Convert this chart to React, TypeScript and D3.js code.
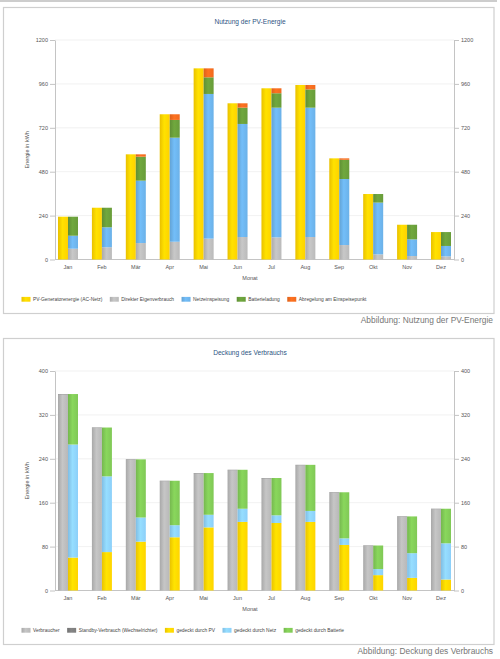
import { useRef, useEffect } from "react";
import * as d3 from "d3";

const MONTHS = ["Jan", "Feb", "Mär", "Apr", "Mai", "Jun", "Jul", "Aug", "Sep", "Okt", "Nov", "Dez"];

// Nutzung der PV-Energie (kWh)
const PV_GENERATOR = [234, 283, 575, 794, 1045, 854, 936, 954, 553, 358, 190, 150];
const EIGENVERBRAUCH = [59, 67, 90, 97, 114, 123, 121, 123, 79, 28, 19, 17];
const NETZEINSPEISUNG = [71, 109, 341, 569, 791, 618, 709, 707, 361, 283, 91, 57];
const BATTERIELADUNG = [104, 107, 131, 97, 91, 89, 79, 100, 105, 47, 80, 76];
const ABREGELUNG = [0, 0, 13, 31, 49, 24, 27, 24, 8, 0, 0, 0];
const PV_TICKS = [0, 240, 480, 720, 960, 1200];

// Deckung des Verbrauchs (kWh)
const VERBRAUCHER = [357, 296, 238, 199, 213, 219, 204, 228, 178, 81, 134, 148];
const STANDBY = [1, 1, 1, 1, 1, 1, 1, 1, 1, 1, 1, 1];
const GEDECKT_PV = [60, 70, 89, 97, 115, 125, 123, 125, 83, 28, 23, 20];
const GEDECKT_NETZ = [206, 138, 44, 22, 23, 24, 14, 20, 12, 11, 45, 66];
const GEDECKT_BATTERIE = [92, 89, 106, 81, 76, 71, 68, 84, 84, 43, 67, 63];
const DECKUNG_TICKS = [0, 80, 160, 240, 320, 400];

type Series = { key: string; name: string; values: number[]; color: string };

interface PanelConfig {
  top: number;
  title: string;
  caption: string;
  ticks: number[];
  left: Series[];
  right: Series[];
}

const FONT = "'Liberation Sans', Arial, sans-serif";

function drawPanel(svg: d3.Selection<SVGSVGElement, unknown, null, undefined>, cfg: PanelConfig) {
  const { top } = cfg;
  const defs = svg.append("defs");
  const g = svg.append("g");

  // frame
  g.append("rect")
    .attr("x", 3.5)
    .attr("y", top + 0.5)
    .attr("width", 490.5)
    .attr("height", 306)
    .attr("fill", "#fff")
    .attr("stroke", "#cfcfcf")
    .attr("stroke-width", 1.2);

  g.append("text")
    .attr("x", 250)
    .attr("y", top + 17)
    .attr("text-anchor", "middle")
    .attr("font-family", FONT)
    .attr("font-size", "6.6px")
    .attr("fill", "#2d537f")
    .text(cfg.title);

  const x = d3.scalePoint<string>().domain(MONTHS).range([68, 441]);
  const yMax = cfg.ticks[cfg.ticks.length - 1];
  const y = d3.scaleLinear().domain([0, yMax]).range([top + 252.5, top + 33]);
  const plotL = 55;
  const plotR = 454;

  // gridlines
  cfg.ticks.slice(1).forEach((t) => {
    g.append("line")
      .attr("x1", plotL)
      .attr("x2", plotR)
      .attr("y1", y(t))
      .attr("y2", y(t))
      .attr("stroke", "#ededed")
      .attr("stroke-width", 0.8);
  });

  // axes
  const styleAxis = (sel: d3.Selection<SVGGElement, unknown, null, undefined>) => {
    sel.attr("font-family", FONT).attr("font-size", "5.5px").attr("color", "#555");
    sel.selectAll("line, path").attr("stroke", "#c4c4c4");
  };
  const fmt = d3.format("d");
  g.append("g")
    .attr("transform", `translate(${plotL},0)`)
    .call(d3.axisLeft(y).tickValues(cfg.ticks).tickFormat((d) => fmt(d as number)).tickSize(5).tickSizeOuter(0).tickPadding(2))
    .call(styleAxis);
  g.append("g")
    .attr("transform", `translate(${plotR},0)`)
    .call(d3.axisRight(y).tickValues(cfg.ticks).tickFormat((d) => fmt(d as number)).tickSize(5).tickSizeOuter(0).tickPadding(2))
    .call(styleAxis);

  g.append("line")
    .attr("x1", plotL)
    .attr("x2", plotR)
    .attr("y1", y(0))
    .attr("y2", y(0))
    .attr("stroke", "#c4c4c4")
    .attr("stroke-width", 1);

  MONTHS.forEach((m) => {
    g.append("text")
      .attr("x", x(m)!)
      .attr("y", top + 261.8)
      .attr("text-anchor", "middle")
      .attr("font-family", FONT)
      .attr("font-size", "5.5px")
      .attr("fill", "#555")
      .text(m);
  });

  g.append("text")
    .attr("x", 250)
    .attr("y", top + 273)
    .attr("text-anchor", "middle")
    .attr("font-family", FONT)
    .attr("font-size", "5.5px")
    .attr("fill", "#555")
    .text("Monat");

  g.append("text")
    .attr("transform", `translate(29,${(y(0) + y(yMax)) / 2}) rotate(-90)`)
    .attr("text-anchor", "middle")
    .attr("font-family", FONT)
    .attr("font-size", "5.5px")
    .attr("fill", "#555")
    .text("Energie in kWh");

  // gradients: darker left edge, lighter middle
  const all = [...cfg.left, ...cfg.right];
  all.forEach((s) => {
    const base = d3.color(s.color)!;
    const grad = defs
      .append("linearGradient")
      .attr("id", `grad-${s.key}`)
      .attr("x1", 0)
      .attr("x2", 1)
      .attr("y1", 0)
      .attr("y2", 0);
    grad.append("stop").attr("offset", "0%").attr("stop-color", base.darker(0.25).formatHex());
    grad.append("stop").attr("offset", "45%").attr("stop-color", base.brighter(0.2).formatHex());
    grad.append("stop").attr("offset", "100%").attr("stop-color", base.formatHex());
  });

  const barW = 10;
  const drawStack = (series: Series[], offset: number) => {
    const rows = MONTHS.map((m, i) => {
      const row: Record<string, number | string> = { month: m };
      series.forEach((s) => (row[s.key] = s.values[i]));
      return row;
    });
    const stacked = d3.stack<Record<string, number | string>>().keys(series.map((s) => s.key))(rows);
    stacked.forEach((layer, li) => {
      g.append("g")
        .attr("fill", `url(#grad-${series[li].key})`)
        .selectAll("rect")
        .data(layer)
        .join("rect")
        .attr("x", (d) => x(d.data.month as string)! + offset)
        .attr("y", (d) => y(d[1]))
        .attr("width", barW)
        .attr("height", (d) => Math.max(0, y(d[0]) - y(d[1])));
    });
  };
  drawStack(cfg.left, -barW);
  drawStack(cfg.right, 0);

  // legend
  let lx = 21.5;
  const ly = top + 292.3;
  all.forEach((s) => {
    g.append("rect")
      .attr("x", lx)
      .attr("y", ly - 2.4)
      .attr("width", 9)
      .attr("height", 4.8)
      .attr("fill", `url(#grad-${s.key})`);
    const t = g
      .append("text")
      .attr("x", lx + 11.5)
      .attr("y", ly + 1.8)
      .attr("font-family", FONT)
      .attr("font-size", "4.9px")
      .attr("fill", "#444")
      .text(s.name);
    const w = (t.node() as SVGTextElement).getComputedTextLength();
    lx += 11.5 + w + 7.5;
  });

  // caption under the frame
  svg.append("text")
    .attr("x", 493)
    .attr("y", top + 316)
    .attr("text-anchor", "end")
    .attr("font-family", FONT)
    .attr("font-size", "8.4px")
    .attr("fill", "#767676")
    .text(cfg.caption);
}

export default function App() {
  const svgRef = useRef<SVGSVGElement>(null);

  useEffect(() => {
    document.body.style.margin = "0";
    if (!svgRef.current) return;
    const svg = d3.select(svgRef.current);
    svg.selectAll("*").remove();

    svg.append("line")
      .attr("x1", 0)
      .attr("x2", 497)
      .attr("y1", 1)
      .attr("y2", 1)
      .attr("stroke", "#bdbdbd")
      .attr("stroke-width", 1.5);

    drawPanel(svg, {
      top: 7,
      title: "Nutzung der PV-Energie",
      caption: "Abbildung: Nutzung der PV-Energie",
      ticks: PV_TICKS,
      left: [{ key: "pv", name: "PV-Generatorenergie (AC-Netz)", values: PV_GENERATOR, color: "#ffd200" }],
      right: [
        { key: "eigen", name: "Direkter Eigenverbrauch", values: EIGENVERBRAUCH, color: "#bababa" },
        { key: "netz", name: "Netzeinspeisung", values: NETZEINSPEISUNG, color: "#6bb1e8" },
        { key: "batt", name: "Batterieladung", values: BATTERIELADUNG, color: "#689c3a" },
        { key: "abreg", name: "Abregelung am Einspeisepunkt", values: ABREGELUNG, color: "#f06a1e" },
      ],
    });

    drawPanel(svg, {
      top: 338,
      title: "Deckung des Verbrauchs",
      caption: "Abbildung: Deckung des Verbrauchs",
      ticks: DECKUNG_TICKS,
      left: [
        { key: "verbr", name: "Verbraucher", values: VERBRAUCHER, color: "#b8b8b8" },
        { key: "standby", name: "Standby-Verbrauch (Wechselrichter)", values: STANDBY, color: "#7d7d7d" },
      ],
      right: [
        { key: "dpv", name: "gedeckt durch PV", values: GEDECKT_PV, color: "#ffd400" },
        { key: "dnetz", name: "gedeckt durch Netz", values: GEDECKT_NETZ, color: "#8ccff9" },
        { key: "dbatt", name: "gedeckt durch Batterie", values: GEDECKT_BATTERIE, color: "#80c856" },
      ],
    });
  }, []);

  return <svg ref={svgRef} width={500} height={659} style={{ display: "block", background: "#fff" }} />;
}
